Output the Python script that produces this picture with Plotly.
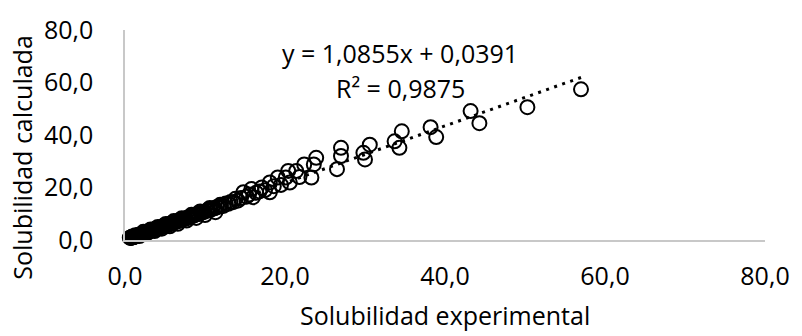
import plotly.graph_objects as go

# Solubilidad experimental (x) vs Solubilidad calculada (y)
x_exp = [0.6, 0.7, 0.75, 0.8, 0.85, 0.9, 0.95, 1.0, 1.05, 1.1, 1.2, 1.3, 1.35, 1.4,
         1.5, 1.6, 1.7, 1.75, 1.8, 1.9, 2.0, 2.1, 2.2, 2.3, 2.4, 2.5, 2.6, 2.7, 2.8, 2.9, 3.0, 3.1, 3.2,
         3.3, 3.4, 3.5, 3.6, 3.7, 3.8, 3.9, 4.0, 4.1, 4.2, 4.35, 4.5, 4.6, 4.75, 4.9, 5.0, 5.15, 5.3,
         5.45, 5.6, 5.75, 5.9, 6.0, 6.2, 6.4, 6.5, 6.7, 6.9, 7.0, 7.2, 7.4, 7.6, 7.8, 8.0, 8.2, 8.4,
         8.6, 8.8, 9.0, 9.2, 9.5, 9.7, 9.9, 10.2, 10.4, 10.7, 10.9, 11.2, 11.5, 11.8, 12.0, 12.3, 12.6,
         12.9, 13.2, 13.5, 13.8, 14.1, 14.5, 14.8, 15.2, 15.5, 15.8, 16.0, 16.4, 16.8, 17.1, 17.5,
         18.1, 18.1, 18.6, 19.1, 19.5, 20.1, 20.4, 20.6, 21.4, 21.8, 22.4, 23.3, 23.6, 23.9, 26.5,
         27.0, 27.0, 29.8, 30.0, 30.6, 33.7, 34.3, 34.6, 38.2, 38.9, 43.2, 44.3, 50.3, 57.0,
         0.9, 1.3, 1.8, 2.3, 2.7, 3.2, 3.7, 4.1, 4.6, 5.1, 5.6, 6.1, 6.6, 7.1, 7.7, 8.3, 8.9,
         9.4, 10.0, 10.6, 11.3, 11.9]
y_calc = [0.9, 0.8, 1.0, 0.9, 1.1, 1.0, 1.2, 1.05, 1.2, 1.15, 1.3, 1.45, 1.4, 1.55,
          1.6, 1.8, 1.8, 1.95, 2.0, 2.1, 2.15, 2.3, 2.35, 2.5, 2.7, 2.7, 2.85, 2.9, 3.1, 3.1, 3.3, 3.35, 3.5,
          3.6, 3.7, 3.85, 3.9, 4.05, 4.1, 4.3, 4.35, 4.5, 4.55, 4.8, 4.9, 5.0, 5.2, 5.3, 5.5, 5.6, 5.7,
          6.0, 6.1, 6.2, 6.5, 6.5, 6.7, 7.0, 7.1, 7.3, 7.4, 7.7, 7.8, 8.1, 8.2, 8.5, 8.7, 8.8, 9.2,
          9.3, 9.7, 9.8, 10.0, 10.3, 10.6, 10.7, 11.1, 11.4, 11.5, 12.0, 12.1, 12.6, 12.7, 13.2, 13.0, 13.9,
          13.8, 14.5, 14.4, 15.7, 15.0, 16.0, 18.2, 16.5, 17.3, 19.4, 16.3, 18.0, 18.5, 20.0, 19.0,
          18.2, 21.9, 20.5, 23.8, 21.0, 23.8, 26.3, 21.9, 26.3, 24.0, 28.8, 23.8, 28.8, 31.3, 27.0,
          32.0, 35.1, 33.2, 30.7, 36.3, 37.6, 35.1, 41.4, 43.0, 39.2, 49.1, 44.5, 50.6, 57.4,
          1.3, 1.8, 1.5, 3.1, 2.4, 4.0, 3.4, 5.0, 4.3, 6.1, 5.2, 7.2, 6.2, 8.3, 7.4, 9.6, 8.4,
          10.9, 9.5, 12.2, 10.6, 13.4]

slope = 1.0855
intercept = 0.0391
r2 = 0.9875
tick_vals = [0, 20, 40, 60, 80]

font_family = "Open Sans"
fs = 25

trend_x = [min(x_exp), max(x_exp)]
trend_y = [slope * v + intercept for v in trend_x]

fig = go.Figure()
fig.add_trace(go.Scatter(
    x=trend_x, y=trend_y, mode="lines",
    line=dict(color="black", width=3, dash="3px,5.5px"),
    hoverinfo="skip", showlegend=False, cliponaxis=False,
))
fig.add_trace(go.Scatter(
    x=x_exp, y=y_calc, mode="markers",
    marker=dict(symbol="circle-open", size=14, color="black", line=dict(width=2, color="black")),
    showlegend=False, cliponaxis=False,
))

axis_common = dict(
    range=[0, 80], tickvals=tick_vals, tickformat=".1f",
    showgrid=False, zeroline=False, showline=True, linecolor="#c8c8c8", linewidth=1.5,
    ticks="", tickfont=dict(family=font_family, size=fs, color="#000000"),
    fixedrange=True,
)
fig.update_xaxes(**axis_common, ticklabelstandoff=13)
fig.update_yaxes(**axis_common, ticklabelstandoff=25)

eq_text = "y = " + f"{slope:.4f}".replace(".", ",") + "x + " + f"{intercept:.4f}".replace(".", ",")
r2_text = "R² = " + f"{r2:.4f}".replace(".", ",")

ann_font = dict(family=font_family, size=fs, color="#000000")
fig.update_layout(
    width=802, height=336,
    margin=dict(l=125, r=28, t=27, b=96),
    paper_bgcolor="white", plot_bgcolor="white",
    separators=", ",
    annotations=[
        dict(text=eq_text, xref="paper", yref="paper", x=0.430, y=0.892,
             xanchor="center", yanchor="middle", showarrow=False, font=ann_font),
        dict(text=r2_text, xref="paper", yref="paper", x=0.430, y=0.723,
             xanchor="center", yanchor="middle", showarrow=False, font=ann_font),
        dict(text="Solubilidad experimental", xref="paper", yref="paper", x=0.5, y=-0.357,
             xanchor="center", yanchor="middle", showarrow=False, font=ann_font),
        dict(text="Solubilidad calculada", xref="paper", yref="paper", x=-0.160, y=0.39,
             xanchor="center", yanchor="middle", textangle=-90, showarrow=False, font=ann_font),
    ],
)

fig.write_html("out.html")
